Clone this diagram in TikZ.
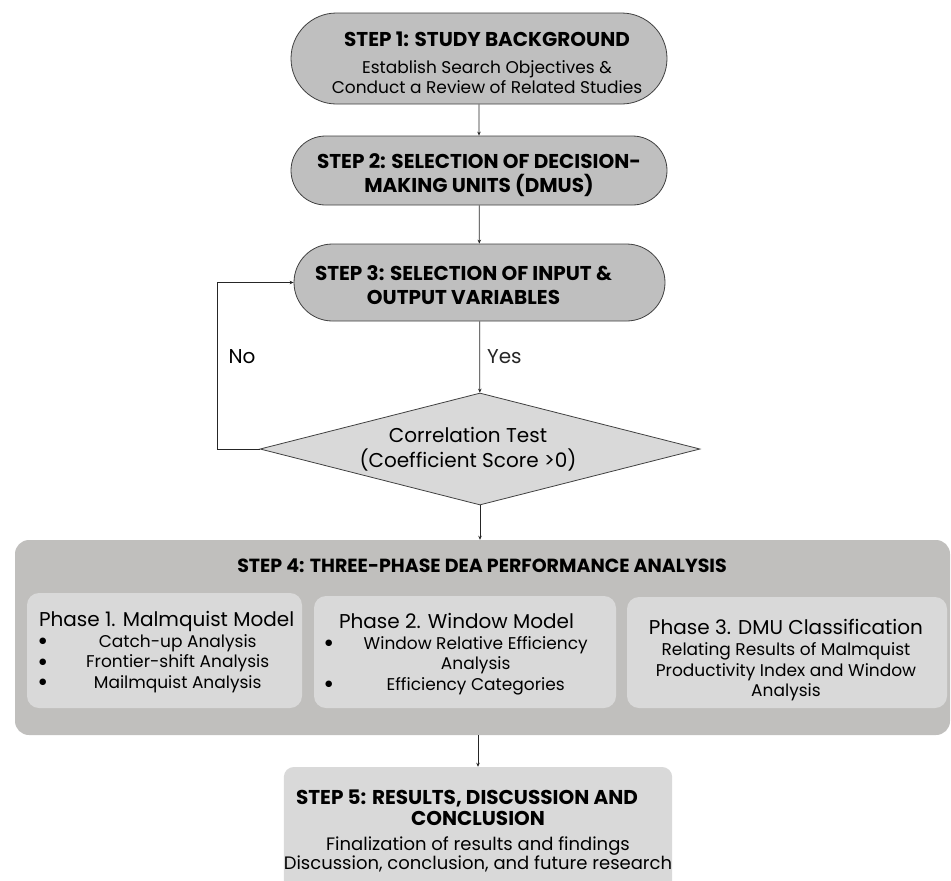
\documentclass[tikz,border=0pt]{standalone}
\usepackage{fontspec}
\setmainfont{Poppins}
\newfontfamily\symf{DejaVu Sans}
\usepackage{xcolor}
\usepackage{tikz}
\usetikzlibrary{arrows.meta,positioning,shapes.geometric,shapes.misc}
\definecolor{stepg}{HTML}{BFBFBF}
\definecolor{lightg}{HTML}{D9D9D9}
\definecolor{outerg}{HTML}{C0BFBD}
\definecolor{edgec}{HTML}{404040}
\tikzset{
  ar/.style={-{Stealth[length=4pt,width=3.5pt]},line width=0.8pt,black!85},
  stepbox/.style={rounded rectangle,draw=edgec,line width=0.8pt,fill=stepg,align=center,inner sep=0pt,
    font=\bfseries\fontsize{20}{24}\selectfont},
  phasebox/.style={fill=lightg,rounded corners=12pt,inner sep=0pt},
  phtxt/.style={align=center,inner sep=0pt,font=\fontsize{17}{20.5}\selectfont},
  lbl/.style={font=\fontsize{20}{24}\selectfont,inner sep=0pt}
}
\newcommand{\subf}{\mdseries\fontsize{17}{20}\selectfont}
\newcommand{\ttlf}{\bfseries\fontsize{20}{21}\selectfont}
\newcommand{\phtitle}[1]{{\fontsize{20}{21}\selectfont #1}}
\newcommand{\bdot}{\raisebox{3.5pt}{\symf\fontsize{8.5}{9}\selectfont ●}}
\newcommand{\blt}[2]{\makebox[#1][l]{\bdot\hfill #2\hfill}}
\newcommand{\nblt}[2]{\makebox[#1][l]{\phantom{\bdot}\hfill #2\hfill}}

\begin{document}
\begin{tikzpicture}[x=1pt,y=-1pt]
\useasboundingbox (0,0) rectangle (951,881);
\clip (0,0) rectangle (951,881);
% steps 1-3
\node[stepbox,minimum width=376pt,minimum height=91pt,font=\bfseries\fontsize{20}{20}\selectfont] (s1) at (479,58.5)
  {\hspace*{16pt}\rule{0pt}{24pt}STEP 1: STUDY BACKGROUND\\[7pt]
   \subf\hspace*{16pt}Establish Search Objectives \&\\ \subf\hspace*{16pt}Conduct a Review of Related Studies};
\node[stepbox,minimum width=376pt,minimum height=69pt] (s2) at (479,170.5)
  {\rule{0pt}{25pt}STEP 2: SELECTION OF DECISION-\\ MAKING UNITS (DMUS)};
\node[stepbox,minimum width=371pt,minimum height=77pt] (s3) at (479.5,282.5)
  {\rule{0pt}{21pt}STEP 3: SELECTION OF INPUT \&\hspace*{32pt}\\ OUTPUT VARIABLES\hspace*{32pt}};
% decision
\node[diamond,draw=edgec,line width=0.8pt,fill=lightg,aspect=3.95,minimum width=440pt,minimum height=112pt,
  inner sep=0pt,align=center,font=\fontsize{20}{25}\selectfont] (ct) at (480,449)
  {Correlation Test\hspace*{24pt}\\(Coefficient Score >0)\hspace*{24pt}};
\coordinate (lp) at (217,449);
\draw[ar] (s1) -- (s2);
\draw[ar] (s2) -- (s3);
\draw[ar] (s3) -- node[lbl,right=7pt] (yes) {Yes} (ct);
\draw[ar] (ct.west) -- (lp) |- (s3.west);
\node[lbl] (no) at (242,357) {No};
% step 4
\node[fill=outerg,rounded corners=14pt,minimum width=935pt,minimum height=195pt] (s4) at (482.5,637.5) {};
\node[anchor=base,inner sep=0pt,font=\bfseries\fontsize{19}{19}\selectfont] (s4t) at (482,572)
  {STEP 4: THREE-PHASE DEA PERFORMANCE ANALYSIS};
\node[phasebox,minimum width=275pt,minimum height=115pt] (p1) at (164.5,650.5) {};
\node[phasebox,minimum width=302pt,minimum height=112pt] (p2) at (465,652) {};
\node[phasebox,minimum width=320pt,minimum height=111pt] (p3) at (787,652.5) {};
\node[phtxt] (p1t) at (174,652)
  {\makebox[270pt][l]{\phtitle{Phase 1. Malmquist Model}}\\
   \blt{270pt}{Catch-up Analysis}\\ \blt{270pt}{Frontier-shift Analysis}\\ \blt{270pt}{Mailmquist Analysis}};
\node[phtxt] (p2t) at (472,654)
  {\makebox[294pt][l]{\hspace*{14pt}\phtitle{Phase 2. Window Model}}\\
   \blt{294pt}{Window Relative Efficiency}\\ \nblt{294pt}{Analysis}\\ \blt{294pt}{Efficiency Categories}};
\node[phtxt] (p3t) at (786,660)
  {\phtitle{Phase 3. DMU Classification}\\[1pt]
   Relating Results of Malmquist\\ Productivity Index and Window\\ Analysis};
% step 5
\node[fill=lightg,rounded corners=10pt,minimum width=388pt,minimum height=128pt,inner sep=0pt,align=center,
  font=\fontsize{18}{19}\selectfont] (s5) at (478,831)
  {\ttlf STEP 5: RESULTS, DISCUSSION AND\hspace*{22pt}\\[2pt] \ttlf CONCLUSION\hspace*{22pt}\\[6pt]
   Finalization of results and findings\\ Discussion, conclusion, and future research};
\draw[ar] (ct.south) -- (ct.south |- s4.north);
\draw[ar] (s5.north |- s4.south) -- (s5.north);
\end{tikzpicture}
\end{document}
